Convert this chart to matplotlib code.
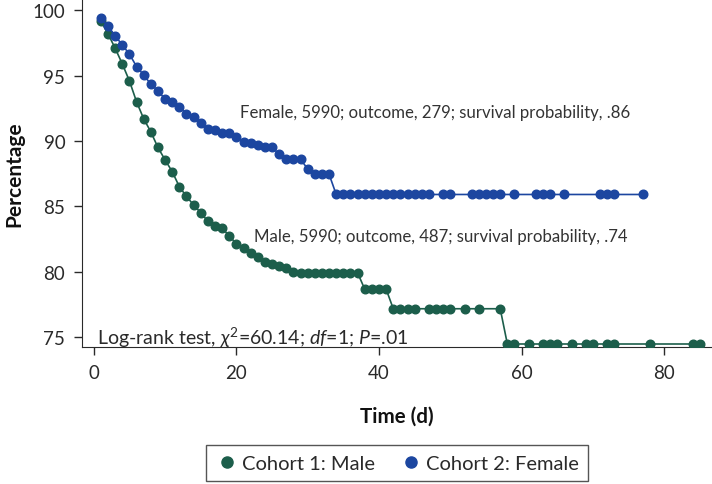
import matplotlib
matplotlib.use("Agg")
import matplotlib.pyplot as plt
from matplotlib.lines import Line2D

plt.rcParams['font.family'] = ['Lato', 'DejaVu Sans']
plt.rcParams['mathtext.fontset'] = 'custom'
plt.rcParams['mathtext.rm'] = 'Lato'
plt.rcParams['mathtext.it'] = 'Lato:italic'
plt.rcParams['mathtext.bf'] = 'Lato:bold'

male_t = list(range(1, 38)) + [38, 39, 40, 41, 42, 43, 44, 45, 47, 48, 49, 50, 52, 54, 57,
                               58, 59, 61, 63, 64, 65, 67, 69, 70, 72, 73, 78, 84, 85]
male_v = [99.2, 98.2, 97.1, 95.9, 94.6, 93.0, 91.7, 90.7, 89.5, 88.55,
          87.65, 86.5, 85.75, 85.1, 84.5, 83.85, 83.5, 83.3, 82.75, 82.1,
          81.8, 81.4, 81.1, 80.75, 80.55, 80.45, 80.25, 79.95, 79.9, 79.9,
          79.9, 79.9, 79.9, 79.9, 79.9, 79.9, 79.9,
          78.65, 78.65, 78.65, 78.65,
          77.15, 77.15, 77.15, 77.15, 77.15, 77.15, 77.15, 77.15, 77.15, 77.15, 77.15,
          74.45, 74.45, 74.45, 74.45, 74.45, 74.45, 74.45, 74.45, 74.45, 74.45,
          74.45, 74.45, 74.45, 74.45]

female_t = list(range(1, 48)) + [49, 50, 53, 54, 55, 56, 57, 59, 62, 63, 64, 66, 71, 72, 73, 77]
female_v = [99.4, 98.8, 98.05, 97.35, 96.65, 95.7, 95.05, 94.35, 93.85, 93.2,
            93.0, 92.6, 92.1, 91.8, 91.35, 90.95, 90.85, 90.6, 90.6, 90.3,
            89.95, 89.85, 89.7, 89.5, 89.5, 89.0, 88.6, 88.6, 88.6, 87.85,
            87.45, 87.45, 87.45] + [85.9] * 30

x_ticks = [0, 20, 40, 60, 80]
y_ticks = [75, 80, 85, 90, 95, 100]

green = '#1c5e4b'
blue = '#1c46a0'
ink = '#2a2a2a'

fig = plt.figure(figsize=(7.12, 4.85), dpi=100)
ax = fig.add_axes([82/712, (485-348)/485, (712-82)/712, 348/485])

ax.plot(male_t, male_v, '-o', color=green, lw=1.2, ms=6.2, zorder=3)
ax.plot(female_t, female_v, '-o', color=blue, lw=1.2, ms=6.2, zorder=3)

ax.set_xlim(-1.65, 86.7)
ax.set_ylim(74.22, 100.87)
ax.set_xticks(x_ticks)
ax.set_yticks(y_ticks)
ax.tick_params(direction='out', length=6, width=1, labelsize=13.5, pad=6, colors=ink)
ax.spines['top'].set_visible(False)
ax.spines['right'].set_visible(False)
ax.spines['left'].set_color(ink)
ax.spines['bottom'].set_color(ink)

ax.set_xlabel('Time (d)', fontsize=14.8, fontweight='bold', labelpad=18, color='#111111')
ax.set_ylabel('Percentage', fontsize=15, fontweight='bold', labelpad=6, color='#111111')

ax.text(20.5, 92.2, 'Female, 5990; outcome, 279; survival probability, .86',
        fontsize=12.1, va='center', ha='left', color='#333333')
ax.text(22.5, 82.7, 'Male, 5990; outcome, 487; survival probability, .74',
        fontsize=12.1, va='center', ha='left', color='#333333')
ax.text(0.4, 75.0, r'Log-rank test, $\chi^2$=60.14; $df$=1; $P$=.01',
        fontsize=14, va='center', ha='left', color=ink)

handles = [Line2D([], [], ls='', marker='o', color=green, ms=8),
           Line2D([], [], ls='', marker='o', color=blue, ms=8)]
leg = fig.legend(handles, ['Cohort 1: Male', 'Cohort 2: Female'], loc='center',
                 bbox_to_anchor=(397/712, (485-464)/485), ncol=2, frameon=True,
                 fancybox=False, edgecolor=ink, handletextpad=0.15,
                 columnspacing=1.2, borderpad=0.45, handlelength=1.2,
                 prop={'size': 14.5})
leg.get_frame().set_linewidth(1.0)
for t in leg.get_texts():
    t.set_color(ink)

fig.savefig('out.png', dpi=100)
